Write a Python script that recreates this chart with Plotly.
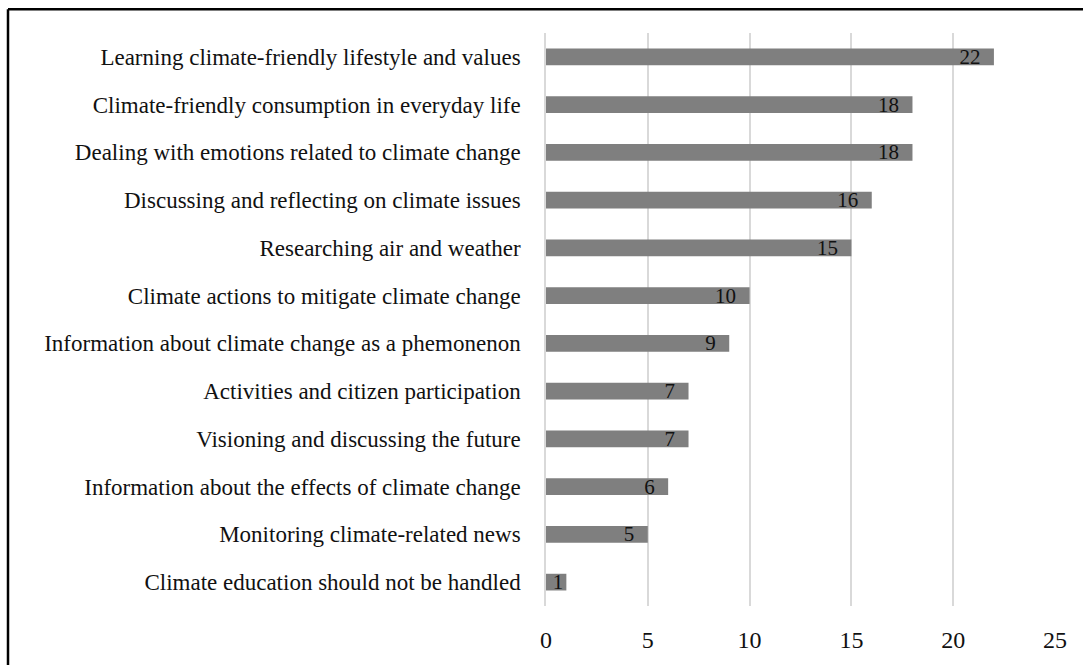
import plotly.graph_objects as go

categories = [
    "Learning climate-friendly lifestyle and values",
    "Climate-friendly consumption in everyday life",
    "Dealing with emotions related to climate change",
    "Discussing and reflecting on climate issues",
    "Researching air and weather",
    "Climate actions to mitigate climate change",
    "Information about climate change as a phemonenon",
    "Activities and citizen participation",
    "Visioning and discussing the future",
    "Information about the effects of climate change",
    "Monitoring climate-related news",
    "Climate education should not be handled",
]
values = [22, 18, 18, 16, 15, 10, 9, 7, 7, 6, 5, 1]
x_ticks = [0, 5, 10, 15, 20, 25]

FONT = "Liberation Serif, Times New Roman, serif"

# short bars get their label nearer the bar end
templates = ["%{x}" if v < 2 else "%{x}\u00a0\u00a0" for v in values]

fig = go.Figure()
fig.add_trace(go.Bar(
    y=categories,
    x=values,
    orientation="h",
    marker=dict(color="#7f7f7f", line=dict(width=0)),
    width=0.35,
    text=values,
    texttemplate=templates,
    textposition="inside",
    insidetextanchor="end",
    textangle=0,
    constraintext="none",
    textfont=dict(family=FONT, size=21, color="#111111"),
    hoverinfo="skip",
))

L, R, T, B = 546, 28, 33, 52
W, H = 1083, 665
pw = W - L - R
ph = H - T - B

fig.update_layout(
    width=W, height=H,
    margin=dict(l=L, r=R, t=T, b=B, pad=0),
    paper_bgcolor="white",
    plot_bgcolor="white",
    showlegend=False,
    font=dict(family=FONT, size=23, color="#111111"),
    bargap=0.65,
    xaxis=dict(
        range=[0, 25],
        tickvals=x_ticks,
        ticktext=[str(v) for v in x_ticks],
        showgrid=True,
        gridcolor="#d9d9d9",
        gridwidth=1.5,
        zeroline=False,
        showline=False,
        ticks="",
        tickfont=dict(family=FONT, size=24, color="#111111"),
        ticklabelstandoff=17,
    ),
    yaxis=dict(
        autorange="reversed",
        showgrid=False,
        zeroline=False,
        showline=True,
        linecolor="#d9d9d9",
        linewidth=1.5,
        ticks="",
        tickfont=dict(family=FONT, size=23, color="#111111"),
        ticklabelstandoff=19,
    ),
)

# outer frame (only the top and left edges fall inside the picture)
x_left = (8 - L) / pw
y_top = 1 + (T - 9) / ph
fig.add_shape(type="line", xref="paper", yref="paper",
              x0=x_left, x1=1.3, y0=y_top, y1=y_top,
              line=dict(color="black", width=2.5))
fig.add_shape(type="line", xref="paper", yref="paper",
              x0=x_left, x1=x_left, y0=-0.3, y1=y_top,
              line=dict(color="black", width=2.5))

fig.write_html("out.html")
